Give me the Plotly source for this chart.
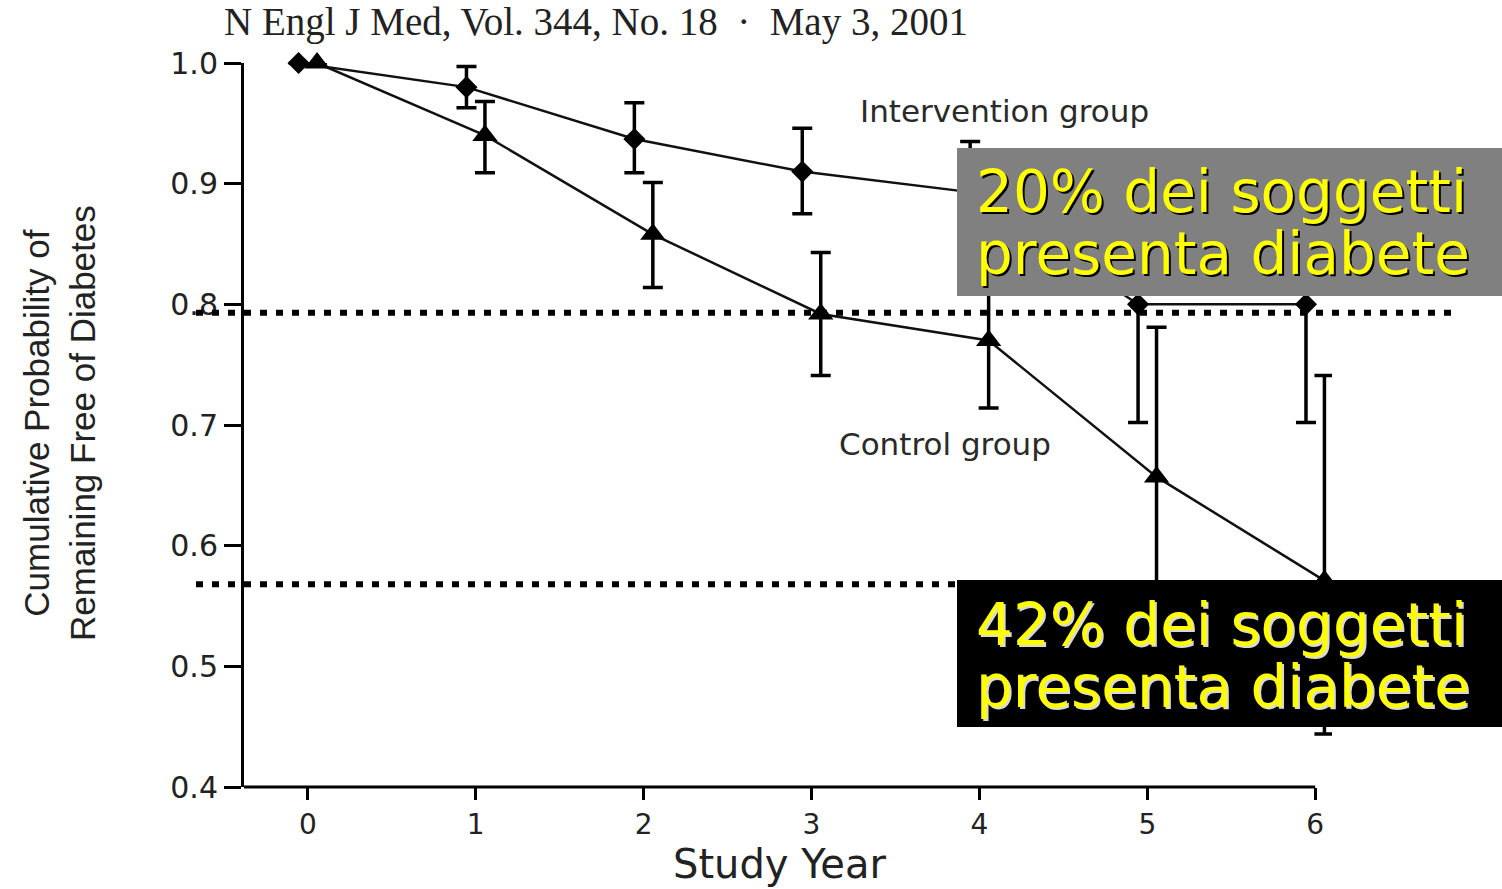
import plotly.graph_objects as go

# Study years and cumulative probability of remaining free of diabetes
years = [0, 1, 2, 3, 4, 5, 6]

intervention = [1.0, 0.980, 0.937, 0.910, 0.893, 0.800, 0.800]
intervention_err_up = [0.0, 0.017, 0.030, 0.036, 0.042, 0.098, 0.098]
intervention_err_down = [0.0, 0.017, 0.028, 0.035, 0.042, 0.098, 0.098]

control = [1.0, 0.940, 0.858, 0.792, 0.770, 0.657, 0.571]
control_err_up = [0.0, 0.028, 0.043, 0.051, 0.056, 0.124, 0.170]
control_err_down = [0.0, 0.031, 0.044, 0.051, 0.056, 0.124, 0.127]

# Reference levels reached at the end of follow-up
reference_levels = [0.793, 0.568]

y_ticks = [0.4, 0.5, 0.6, 0.7, 0.8, 0.9, 1.0]
y_ticktext = ["0.4", "0.5", "0.6", "0.7", "0.8", "0.9", "1.0"]
x_ticks = [0, 1, 2, 3, 4, 5, 6]

# Figure geometry (pixels)
FIG_W, FIG_H = 1502, 889
L, R, T, B = 244, 1332, 63, 787
PW, PH = R - L, B - T


def px(x):
    return (x - L) / PW


def py(y):
    return (B - y) / PH


DODGE = 0.055
err_style = dict(type="data", symmetric=False, color="black", thickness=3.5, width=10)

fig = go.Figure()

fig.add_trace(go.Scatter(
    x=[v - DODGE for v in years], y=intervention,
    mode="lines+markers",
    line=dict(color="#111111", width=2.5),
    marker=dict(symbol="diamond", size=17, color="black"),
    error_y=dict(array=intervention_err_up, arrayminus=intervention_err_down, **err_style),
    cliponaxis=False, showlegend=False, name="Intervention group",
))

fig.add_trace(go.Scatter(
    x=[v + DODGE for v in years], y=control,
    mode="lines+markers",
    line=dict(color="#111111", width=2.5),
    marker=dict(symbol="triangle-up", size=22, color="black"),
    error_y=dict(array=control_err_up, arrayminus=control_err_down, **err_style),
    cliponaxis=False, showlegend=False, name="Control group",
))

shapes = []
# x-axis baseline ending at the last study year
shapes.append(dict(type="line", xref="x", yref="paper", x0=-0.38, x1=6.0, y0=0, y1=0,
                   line=dict(color="black", width=3), layer="above"))
# dotted reference lines
dotted_ends = [1455, 1455]
for lvl, xe in zip(reference_levels, dotted_ends):
    shapes.append(dict(type="line", xref="paper", yref="y", x0=px(196), x1=px(xe),
                       y0=lvl, y1=lvl, line=dict(color="black", width=6, dash="7px,9px"),
                       layer="above"))
# callout boxes
shapes.append(dict(type="rect", xref="paper", yref="paper", x0=px(957), x1=px(1502),
                   y0=py(296), y1=py(148), fillcolor="#808080", line=dict(width=0), layer="above"))
shapes.append(dict(type="rect", xref="paper", yref="paper", x0=px(957), x1=px(1502),
                   y0=py(727), y1=py(580), fillcolor="#000000", line=dict(width=0), layer="above"))

annotations = []


def label(text, x, y, size, color, family, xanchor="center", yanchor="middle", **kw):
    annotations.append(dict(text=text, xref="paper", yref="paper", x=px(x), y=py(y),
                            xanchor=xanchor, yanchor=yanchor, showarrow=False,
                            font=dict(size=size, color=color, family=family), **kw))


label("N Engl J Med, Vol. 344, No. 18  ·  May 3, 2001", 596, 22, 39, "#222222",
      "Liberation Serif")
label("Intervention group", 1004, 111, 31, "#2a2a2a", "DejaVu Sans")
label("Control group", 945, 444, 31, "#2a2a2a", "DejaVu Sans")
label("Study Year", 779, 889, 40, "#222222", "DejaVu Sans", yanchor="bottom")
label("Cumulative Probability of<br>Remaining Free of Diabetes", 60, 423, 35, "#222222",
      "Liberation Sans Narrow, Liberation Sans", textangle=-90)

callout_font = "DejaVu Sans"
for text, yc in [("20% dei soggetti", 192), ("presenta diabete", 254)]:
    annotations.append(dict(text=text, xref="paper", yref="paper", x=px(974), y=py(yc),
                            xanchor="left", yanchor="middle", showarrow=False,
                            font=dict(size=58, color="#FFFF00", family=callout_font,
                                      shadow="2px 2px 0px #000000")))
for text, yc in [("42% dei soggetti", 625), ("presenta diabete", 687)]:
    annotations.append(dict(text=text, xref="paper", yref="paper", x=px(974), y=py(yc),
                            xanchor="left", yanchor="middle", showarrow=False,
                            font=dict(size=58, color="#FFFF00", family=callout_font,
                                      shadow="2px 2px 0px #d8d8d8")))

fig.update_layout(
    width=FIG_W, height=FIG_H,
    margin=dict(l=L, r=FIG_W - R, t=T, b=FIG_H - B, pad=0),
    paper_bgcolor="white", plot_bgcolor="white",
    shapes=shapes, annotations=annotations,
    xaxis=dict(range=[-0.38, 6.1], tickvals=x_ticks, ticks="outside", ticklen=12,
               tickwidth=3, tickcolor="black", showline=False, showgrid=False,
               zeroline=False, tickfont=dict(family="DejaVu Sans", size=28, color="#222222")),
    yaxis=dict(range=[0.4, 1.0], tickvals=y_ticks, ticktext=y_ticktext, ticks="outside",
               ticklen=17, tickwidth=3, tickcolor="black", showline=True, linewidth=3,
               linecolor="black", showgrid=False, zeroline=False,
               tickfont=dict(family="DejaVu Sans", size=30, color="#222222")),
)

fig.write_html("out.html")
